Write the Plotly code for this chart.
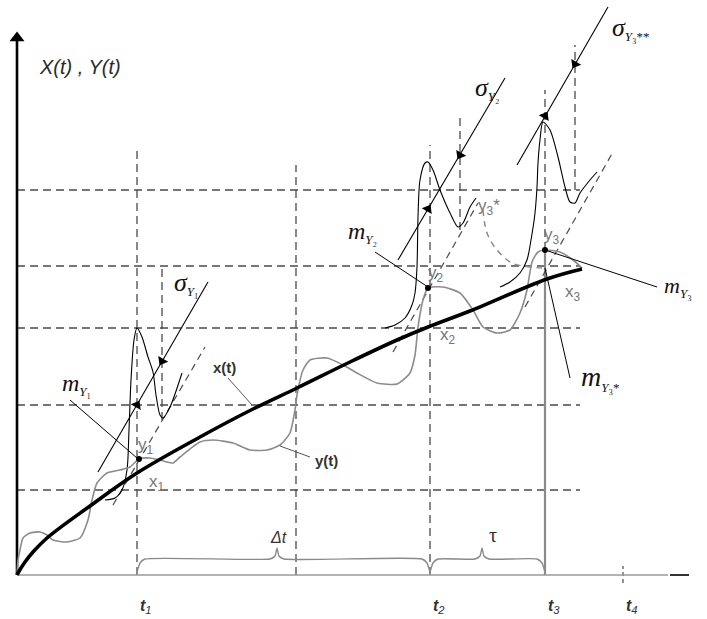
import plotly.graph_objects as go

# Diagram units: horizontal = time (0 at origin), vertical = value (0 on the time axis)

# time marks
T_LABELS = ["t1", "t2", "t3", "t4"]
T_POS = [120, 413, 528, 606]
T_MID = 279  # middle of the Δt interval (dashed)

# horizontal dashed reference levels
LEVELS = [385, 309, 247, 170, 85]
LEVEL_END = 563

# expectation x(t) (thick black)
XT_T = [0, 1, 8, 16, 30, 73, 120, 183, 236, 280, 333, 380, 411, 453, 530, 565]
XT_V = [0, 2, 13, 23, 37, 69, 102, 138, 166, 187, 213, 235, 248, 264, 296, 306]

# realisation y(t) (grey, wiggly)
YT_T = [0, 1, 3, 6, 13, 23, 30, 36, 50, 63, 71, 75, 80, 90, 103, 113, 122, 133, 143,
        156, 163, 183, 196, 216, 233, 250, 263, 273, 278, 280, 286, 293, 310, 326, 340,
        360, 380, 393, 398, 401, 406, 411, 426, 443, 456, 466, 480, 493, 503, 510, 515,
        521, 528, 543, 556, 565]
YT_V = [0, 15, 25, 37, 42, 43, 40, 35, 33, 37, 55, 75, 92, 102, 105, 108, 116, 117, 115,
        112, 118, 133, 135, 132, 125, 125, 130, 142, 165, 180, 205, 215, 217, 210, 202,
        192, 191, 202, 220, 248, 275, 287, 288, 282, 265, 248, 242, 245, 262, 285, 313,
        323, 325, 323, 315, 307]

# density curves
D1_T = [88, 98, 105, 110, 112, 114, 117, 120, 125, 131, 136, 139, 143, 146, 153, 165]
D1_V = [75, 77, 85, 105, 145, 195, 235, 247, 238, 218, 203, 180, 160, 157, 168, 202]
D2_T = [368, 378, 388, 395, 398, 400, 401, 403, 408, 411, 416, 423, 433, 441, 446, 453, 459]
D2_V = [247, 250, 257, 270, 282, 308, 358, 395, 412, 413, 405, 385, 362, 348, 352, 368, 377]
D3_T = [483, 493, 503, 510, 514, 518, 520, 521, 523, 526, 533, 541, 548, 553, 558, 563, 573, 580]
D3_V = [288, 293, 302, 315, 335, 362, 388, 412, 435, 453, 445, 418, 388, 373, 372, 382, 395, 403]

# dashed slanted axes of the densities
SLANT_T = [[96, 188], [376, 461], [508, 596]]
SLANT_V = [[70, 228], [223, 372], [268, 423]]

# sigma dimension lines and their arrow points
SIG_T = [[81, 191], [381, 488], [500, 591]]
SIG_V = [[103, 293], [315, 497], [410, 568]]
SIG_ARROW_LO = [(120, 170), (411, 366), (528, 459)]
SIG_ARROW_HI = [(145, 214), (443, 420), (558, 511)]

# short dashed verticals for sigma
SV_T = [145, 443, 558]
SV_V = [[155, 307], [345, 457], [385, 530]]

# main dashed verticals (top value)
MV_T = [120, 279, 413]
MV_TOP = [425, 410, 430]

# mean points
M_T = [122, 411, 528]
M_V = [116, 287, 325]

# y3* dashed arc
ARC_T = [466, 470, 480, 495, 513, 528]
ARC_V = [365, 342, 325, 312, 308, 307]

DASH = "#4a4a4a"

fig = go.Figure()


def line(xs, ys, color="black", width=1.2, dash="solid", shape="linear", smooth=1.0):
    fig.add_trace(go.Scatter(x=xs, y=ys, mode="lines", hoverinfo="skip",
                             line=dict(color=color, width=width, dash=dash, shape=shape,
                                       smoothing=smooth if shape == "spline" else None)))


DASHP = "8px,5px"

# horizontal levels
for lv in LEVELS:
    line([0, LEVEL_END], [lv, lv], DASH, 1.3, DASHP)

# vertical dashed lines
for t, top in zip(MV_T, MV_TOP):
    line([t, t], [0, top], DASH, 1.3, DASHP)
line([T_POS[2], T_POS[2]], [325, 485], DASH, 1.3, DASHP)
line([T_POS[2], T_POS[2]], [0, 325], "#8a8a8a", 2.2)
for t, (a, b) in zip(SV_T, SV_V):
    line([t, t], [a, b], DASH, 1.3, DASHP)

# t4 tick
line([T_POS[3], T_POS[3]], [-8, 9], DASH, 1.2, "4px,3px")

# axes
line([0, 651], [0, 0], "#9a9a9a", 1.6)
line([653, 672], [0, 0], "#333333", 2)
line([0, 0], [0, 535], "black", 2.6)
fig.add_trace(go.Scatter(x=[0], y=[537], mode="markers", hoverinfo="skip",
                         marker=dict(symbol="triangle-up", size=13, color="black")))

# slanted dashed axes
for xs, ys in zip(SLANT_T, SLANT_V):
    line(xs, ys, DASH, 1.2, "7px,5px")

# densities
for xs, ys in [(D1_T, D1_V), (D2_T, D2_V), (D3_T, D3_V)]:
    line(xs, ys, "black", 1.1, shape="spline", smooth=0.8)

# sigma lines
for xs, ys in zip(SIG_T, SIG_V):
    line(xs, ys, "black", 1.1)
fig.add_trace(go.Scatter(x=[p[0] for p in SIG_ARROW_LO], y=[p[1] for p in SIG_ARROW_LO],
                         mode="markers", hoverinfo="skip",
                         marker=dict(symbol="triangle-up", size=10, angle=30, color="black")))
fig.add_trace(go.Scatter(x=[p[0] for p in SIG_ARROW_HI], y=[p[1] for p in SIG_ARROW_HI],
                         mode="markers", hoverinfo="skip",
                         marker=dict(symbol="triangle-up", size=10, angle=210, color="black")))

# y(t)
line(YT_T, YT_V, "#8c8c8c", 1.6, shape="spline", smooth=0.6)
# arc
line(ARC_T, ARC_V, "#8c8c8c", 1.5, "6px,5px", shape="spline")
# x(t)
line(XT_T, XT_V, "black", 3.6, shape="spline", smooth=1.0)

# leaders
LEAD = [([53, 120], [175, 117]), ([358, 411], [323, 288]), ([528, 640], [325, 288]),
        ([528, 553], [307, 197]), ([211, 235], [197, 170]), ([263, 293], [129, 118])]
for i, (xs, ys) in enumerate(LEAD):
    line(xs, ys, "black" if i < 4 else "#555555", 1.0)

# mean points
fig.add_trace(go.Scatter(x=M_T, y=M_V, mode="markers", hoverinfo="skip",
                         marker=dict(size=6, color="black")))

# braces
BR = [(120, 260, 413), (413, 465, 528)]
for a, m, b in BR:
    line([a, a + 3, a + 8, m - 7, m - 2, m, m + 2, m + 7, b - 8, b - 3, b],
         [3, 12, 16, 16, 19, 27, 19, 16, 16, 12, 3], "#8a8a8a", 1.4, shape="spline", smooth=0.5)

ann = []


def text(x, y, s, size=15, color="#333333", family="Liberation Sans", xa="center"):
    ann.append(dict(x=x, y=y, text=s, showarrow=False, xanchor=xa, yanchor="middle",
                    font=dict(size=size, color=color, family=family)))


SER = "Liberation Serif"
sub = "<sub><span style='font-size:13px'>%s</span></sub>"
text(63, 508, "<i>X(t) , Y(t)</i>", 20, "#2a2a2a")
text(169, 292, "<i>σ</i>" + sub % "<i>Y</i>₁", 26, "#111", SER)
text(59, 191, "<i>m</i>" + sub % "<i>Y</i>₁", 24, "#111", SER)
text(470, 487, "<i>σ</i>" + sub % "<i>Y</i>₂", 26, "#111", SER)
text(345, 343, "<i>m</i>" + sub % "<i>Y</i>₂", 24, "#111", SER)
text(614, 547, "<i>σ</i>" + sub % "<i>Y</i>₃**", 26, "#111", SER)
text(661, 288, "<i>m</i>" + sub % "<i>Y</i>₃", 22, "#111", SER)
text(583, 197, "<i>m</i>" + sub % "<i>Y</i>₃*", 28, "#111", SER)

G = "#777777"
text(140, 92, "x<sub>1</sub>", 17, G)
text(129, 129, "y<sub>1</sub>", 17, G)
text(431, 239, "x<sub>2</sub>", 17, G)
text(419, 301, "y<sub>2</sub>", 17, G)
text(556, 282, "x<sub>3</sub>", 17, G)
text(535, 339, "y<sub>3</sub>", 17, G)
text(472, 368, "y<sub>3</sub>*", 17, G)
text(207, 208, "<b>x(t)</b>", 15, "#333333")
text(309, 115, "<b>y(t)</b>", 15, "#333333")
text(261, 38, "<i>Δt</i>", 16, "#333333")
text(476, 40, "τ", 20, "#333333", SER)
for lab, t in zip(T_LABELS, T_POS):
    text(t + 9, -31, "<b><i>t</i></b><sub><i>%s</i></sub>" % lab[1], 16, "#333333")

fig.update_layout(
    width=707, height=619, margin=dict(l=0, r=0, t=0, b=0),
    paper_bgcolor="white", plot_bgcolor="white", showlegend=False,
    xaxis=dict(range=[-17, 690], visible=False, fixedrange=True),
    yaxis=dict(range=[-44, 575], visible=False, fixedrange=True),
    annotations=ann,
)
fig.write_html("out.html", config={"displayModeBar": False},
               post_script="document.body.style.margin='0';document.body.style.overflow='hidden';")
